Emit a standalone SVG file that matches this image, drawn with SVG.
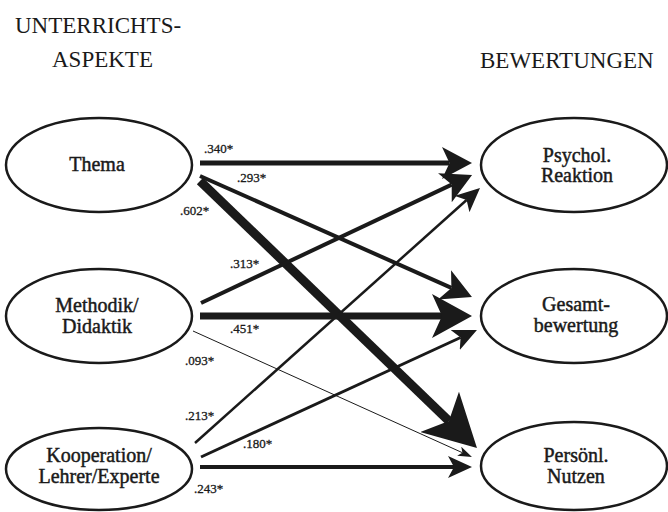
<svg xmlns="http://www.w3.org/2000/svg" width="668" height="512" viewBox="0 0 668 512">
<style>
.node ellipse{fill:#fff;stroke:#1a1a1a;stroke-width:2.5}
.nt{font-family:"Liberation Serif","Times New Roman",serif;font-size:20px;fill:#1a1a1a;stroke:#1a1a1a;stroke-width:0.45;text-anchor:middle}
.hd{font-family:"Liberation Serif","Times New Roman",serif;font-size:23px;fill:#1a1a1a}
.lb{font-family:"Liberation Serif","Times New Roman",serif;font-size:13px;fill:#1a1a1a;stroke:#1a1a1a;stroke-width:0.3}
.edge{stroke:#1a1a1a;fill:none;stroke-linecap:butt}
</style>
<defs>
<marker id="mS" markerUnits="userSpaceOnUse" markerWidth="14" markerHeight="10" viewBox="0 0 14 10" refX="3.5" refY="5" orient="auto"><path d="M0,0 L14,5 L0,10 L3.5,5 Z" fill="#1a1a1a"/></marker>
<marker id="mM" markerUnits="userSpaceOnUse" markerWidth="24" markerHeight="22" viewBox="0 0 24 22" refX="6" refY="11" orient="auto"><path d="M0,0 L24,11 L0,22 L6,11 Z" fill="#1a1a1a"/></marker>
<marker id="mL" markerUnits="userSpaceOnUse" markerWidth="30" markerHeight="32" viewBox="0 0 30 32" refX="7.5" refY="16" orient="auto"><path d="M0,0 L30,16 L0,32 L7.5,16 Z" fill="#1a1a1a"/></marker>
<marker id="mXL" markerUnits="userSpaceOnUse" markerWidth="40" markerHeight="44" viewBox="0 0 40 44" refX="10" refY="22" orient="auto"><path d="M0,0 L40,22 L0,44 L10,22 Z" fill="#1a1a1a"/></marker>
<marker id="mXXL" markerUnits="userSpaceOnUse" markerWidth="52" markerHeight="56" viewBox="0 0 52 56" refX="13" refY="28" orient="auto"><path d="M0,0 L52,28 L0,56 L13,28 Z" fill="#1a1a1a"/></marker>
</defs>

<g id="headers">
<text class="hd" x="15" y="33">UNTERRICHTS-</text>
<text class="hd" x="52" y="67">ASPEKTE</text>
<text class="hd" x="480" y="68">BEWERTUNGEN</text>
</g>

<g id="connectors">
<line class="edge" x1="200" y1="163" x2="449.5" y2="163" stroke-width="5" marker-end="url(#mL)"/>
<line class="edge" x1="200" y1="176" x2="451.4" y2="287.9" stroke-width="4" marker-end="url(#mL)"/>
<line class="edge" x1="200" y1="181" x2="448.9" y2="420.9" stroke-width="9" marker-end="url(#mXXL)"/>
<line class="edge" x1="201" y1="303" x2="451.7" y2="184.6" stroke-width="4" marker-end="url(#mL)"/>
<line class="edge" x1="195" y1="443" x2="466.6" y2="200" stroke-width="2.5" marker-end="url(#mM)"/>
<line class="edge" x1="200" y1="316" x2="442" y2="316" stroke-width="7" marker-end="url(#mXL)"/>
<line class="edge" x1="193" y1="331" x2="462.4" y2="452.7" stroke-width="1" marker-end="url(#mS)"/>
<line class="edge" x1="201" y1="457" x2="460.6" y2="337.5" stroke-width="3" marker-end="url(#mM)"/>
<line class="edge" x1="200" y1="467" x2="454" y2="467" stroke-width="4" marker-end="url(#mM)"/>
</g>

<g id="labels">
<text class="lb" x="204" y="153">.340*</text>
<text class="lb" x="237" y="182">.293*</text>
<text class="lb" x="180" y="215">.602*</text>
<text class="lb" x="230" y="268">.313*</text>
<text class="lb" x="230" y="333">.451*</text>
<text class="lb" x="185" y="365">.093*</text>
<text class="lb" x="185" y="420">.213*</text>
<text class="lb" x="243" y="448">.180*</text>
<text class="lb" x="194" y="493">.243*</text>
</g>

<g id="n-thema" class="node">
<ellipse cx="99" cy="165" rx="93" ry="47"/>
<text class="nt" x="97" y="171">Thema</text>
</g>
<g id="n-methodik" class="node">
<ellipse cx="99" cy="316" rx="93" ry="47"/>
<text class="nt" x="97" y="312">Methodik/</text>
<text class="nt" x="97" y="333">Didaktik</text>
</g>
<g id="n-kooperation" class="node">
<ellipse cx="99" cy="469" rx="93" ry="41"/>
<text class="nt" x="99" y="462">Kooperation/</text>
<text class="nt" x="99" y="483">Lehrer/Experte</text>
</g>
<g id="n-psychol" class="node">
<ellipse cx="574" cy="165" rx="93" ry="47"/>
<text class="nt" x="577" y="162">Psychol.</text>
<text class="nt" x="577" y="182">Reaktion</text>
</g>
<g id="n-gesamt" class="node">
<ellipse cx="574" cy="316" rx="93" ry="47"/>
<text class="nt" x="576" y="311">Gesamt-</text>
<text class="nt" x="576" y="332">bewertung</text>
</g>
<g id="n-nutzen" class="node">
<ellipse cx="574" cy="466" rx="93" ry="44"/>
<text class="nt" x="576" y="462">Persönl.</text>
<text class="nt" x="576" y="483">Nutzen</text>
</g>
</svg>
